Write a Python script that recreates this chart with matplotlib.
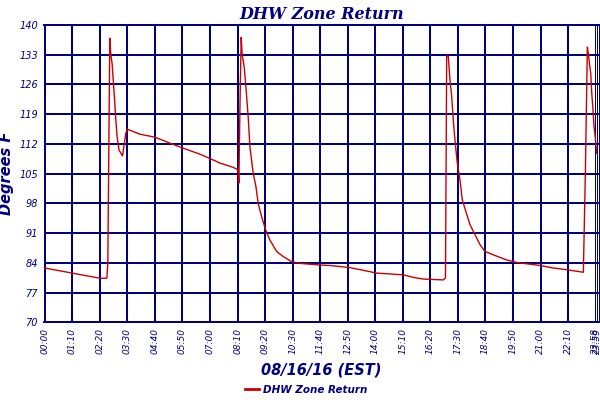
import matplotlib
matplotlib.use("Agg")
import matplotlib.pyplot as plt

NAVY = "#000080"
RED = "#cc0000"

# minutes after midnight and return temperature (deg F)
minutes = [0, 140, 157.7, 160.2, 164, 165.3, 167.8, 171.1, 176.2, 180.6, 183.9,
           188.9, 195, 197.6, 200.9, 206, 209.3, 241.6, 279.7, 317.9, 351.7,
           394.2, 419.6, 445, 478.9, 491.6, 493.3, 495.9, 499.2, 501.7, 506.8,
           511.1, 517, 521.3, 529.7, 536.6, 542.4, 551.1, 561.2, 572.2, 589.2,
           606, 627.4, 648.5, 699.3, 724.8, 775.6, 818.1, 843.5, 877.3, 911.2,
           936.6, 962, 1012.9, 1018.5, 1021.5, 1025.6, 1029.9, 1034.3, 1038.3,
           1042.6, 1048.5, 1055.4, 1061.2, 1080.8, 1106.2, 1118.9, 1140, 1174.1,
           1199.5, 1258.8, 1292.6, 1326.7, 1368.9, 1374, 1379.1, 1381.6, 1384.2,
           1387.7, 1390.3, 1392.8, 1396.1, 1398.6, 1401.2, 1403]
temps = [82.8, 80.4, 80.4, 84.0, 124.0, 136.9, 133.0, 130.9, 124.0, 117.6, 113.6,
         110.5, 109.6, 109.2, 111.3, 114.5, 115.5, 114.3, 113.6, 112.2, 111.0,
         109.6, 108.6, 107.5, 106.5, 105.9, 102.8, 120.0, 137.1, 133.0, 130.2,
         125.5, 118.4, 111.4, 105.1, 102.0, 98.0, 94.9, 91.8, 89.4, 86.7,
         85.5, 84.3, 83.9, 83.5, 83.4, 82.9, 82.1, 81.6, 81.4, 81.2,
         80.6, 80.2, 80.0, 80.5, 132.7, 132.7, 127.0, 123.1, 117.6,
         112.9, 107.5, 103.5, 98.8, 93.0, 88.3, 86.7, 85.9, 84.7,
         84.1, 83.4, 82.8, 82.4, 81.8, 105.0, 134.8, 133.3, 131.0,
         128.6, 123.9, 120.8, 116.1, 114.1, 111.4, 109.8]

tick_minutes = list(range(0, 1331, 70)) + [1398.6, 1404.5]
tick_labels = ["00:00", "01:10", "02:20", "03:30", "04:40", "05:50", "07:00",
               "08:10", "09:20", "10:30", "11:40", "12:50", "14:00", "15:10",
               "16:20", "17:30", "18:40", "19:50", "21:00", "22:10",
               "23:58", "23:59"]
y_ticks = list(range(70, 141, 7))

fig = plt.figure(figsize=(6, 4), dpi=100)
ax = fig.add_axes([0.0725, 0.194, 0.9265, 0.7435])

ax.plot(minutes, temps, color=RED, lw=1.0, label="DHW Zone Return", zorder=3)

ax.set_xlim(-3.3, 1409.7)
ax.set_ylim(70, 140)
ax.set_xticks(tick_minutes)
ax.set_xticklabels(tick_labels, rotation=90, fontsize=6.5, style="italic", color=NAVY)
ax.set_yticks(y_ticks)
ax.set_yticklabels([str(v) for v in y_ticks], fontsize=7, style="italic", color=NAVY)
ax.tick_params(length=0, pad=4)
ax.grid(True, color=NAVY, lw=1.2, antialiased=False)
for s in ax.spines.values():
    s.set_color(NAVY)
    s.set_linewidth(1.2)
    s.set_antialiased(False)
# the crowded end-of-day lines are thin in the original
for gl in ax.get_xgridlines()[-2:]:
    gl.set_linewidth(0.7)
ax.spines["right"].set_linewidth(0.7)
ax.spines["left"].set_linewidth(0.7)

ax.set_title("DHW Zone Return", family="DejaVu Serif", style="italic",
             weight="bold", fontsize=11.5, color=NAVY, pad=4)
ax.set_ylabel("Degrees F", style="italic", weight="bold", fontsize=10.5,
              color=NAVY, labelpad=4)
ax.set_xlabel("08/16/16 (EST)", style="italic", weight="bold", fontsize=10.5,
              color=NAVY, labelpad=6)

leg = fig.legend(loc="lower center", bbox_to_anchor=(0.51, -0.01), frameon=False,
                 prop={"style": "italic", "weight": "bold", "size": 7.5},
                 handlelength=1.3, handletextpad=0.4)
for t in leg.get_texts():
    t.set_color(NAVY)
for l in leg.get_lines():
    l.set_linewidth(2)

fig.savefig("out.png", dpi=100)
